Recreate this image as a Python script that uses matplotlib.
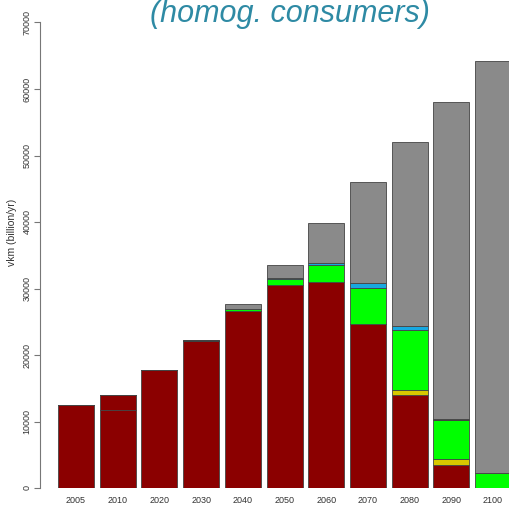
import matplotlib
matplotlib.use("Agg")
import matplotlib.pyplot as plt
import numpy as np

years = ['2005', '2010', '2020', '2030', '2040', '2050', '2060', '2070', '2080', '2090', '2100']
darkred_a = [12500, 11800, 17800, 22100, 26600, 30600, 31000, 24700, 14000, 3500, 0]
darkred_b = [0, 2200, 0, 0, 0, 0, 0, 0, 0, 0, 0]
yellow_s = [0, 0, 0, 0, 0, 0, 0, 0, 800, 800, 0]
green_s = [0, 0, 0, 0, 300, 800, 2600, 5450, 9000, 6000, 2200]
black_s = [0, 0, 0, 200, 0, 0, 0, 0, 0, 100, 0]
blue_s = [0, 0, 0, 0, 0, 150, 300, 650, 500, 0, 0]
gray_s = [0, 0, 0, 0, 800, 1950, 5900, 15200, 27700, 47600, 62000]

series = [darkred_a, darkred_b, yellow_s, green_s, black_s, blue_s, gray_s]
colors = ['#8B0000', '#8B0000', '#D8C800', '#00FF00', '#111111', '#18A8E0', '#8A8A8A']

plt.rcParams['font.family'] = ['Liberation Sans', 'DejaVu Sans']
W, H = 510, 505
fig = plt.figure(figsize=(W / 100, H / 100), dpi=100)
left, right = 40, 510
bottom, top = 488, 22.5
ax = fig.add_axes([left / W, 1 - bottom / H, (right - left) / W, (bottom - top) / H])

x = np.arange(len(years))
barw = 36 / 41.7
base = np.zeros(len(years))
for s, c in zip(series, colors):
    vals = np.array(s, dtype=float)
    ax.bar(x, vals, width=barw, bottom=base, color=c, edgecolor='#444444',
           linewidth=0.6, align='center')
    base += vals

ax.set_xlim(-barw, (510 - 76) / 41.7)
ax.set_ylim(0, 70000)
for sp in ['top', 'right', 'bottom']:
    ax.spines[sp].set_visible(False)
ax.spines['left'].set_color('#777777')
ax.spines['left'].set_linewidth(0.8)
ax.set_yticks(np.arange(0, 70001, 10000))
ax.set_yticklabels([str(v) for v in range(0, 70001, 10000)], rotation=90,
                   va='center', fontsize=6.5, color='#333333')
ax.tick_params(axis='y', length=4, color='#777777', pad=2)
ax.set_xticks(x)
ax.set_xticklabels(years, fontsize=6.5, color='#333333')
ax.tick_params(axis='x', length=0, pad=6)

fig.text(12 / W, 1 - 232 / H, 'vkm (billion/yr)', rotation=90, ha='center', va='center',
         fontsize=7.5, color='#333333')
fig.text(290 / W, 1 - 14 / H, '(homog. consumers)', ha='center', va='center',
         fontsize=22, style='italic', color='#2E8AA4')

fig.savefig('out.png', dpi=100)
